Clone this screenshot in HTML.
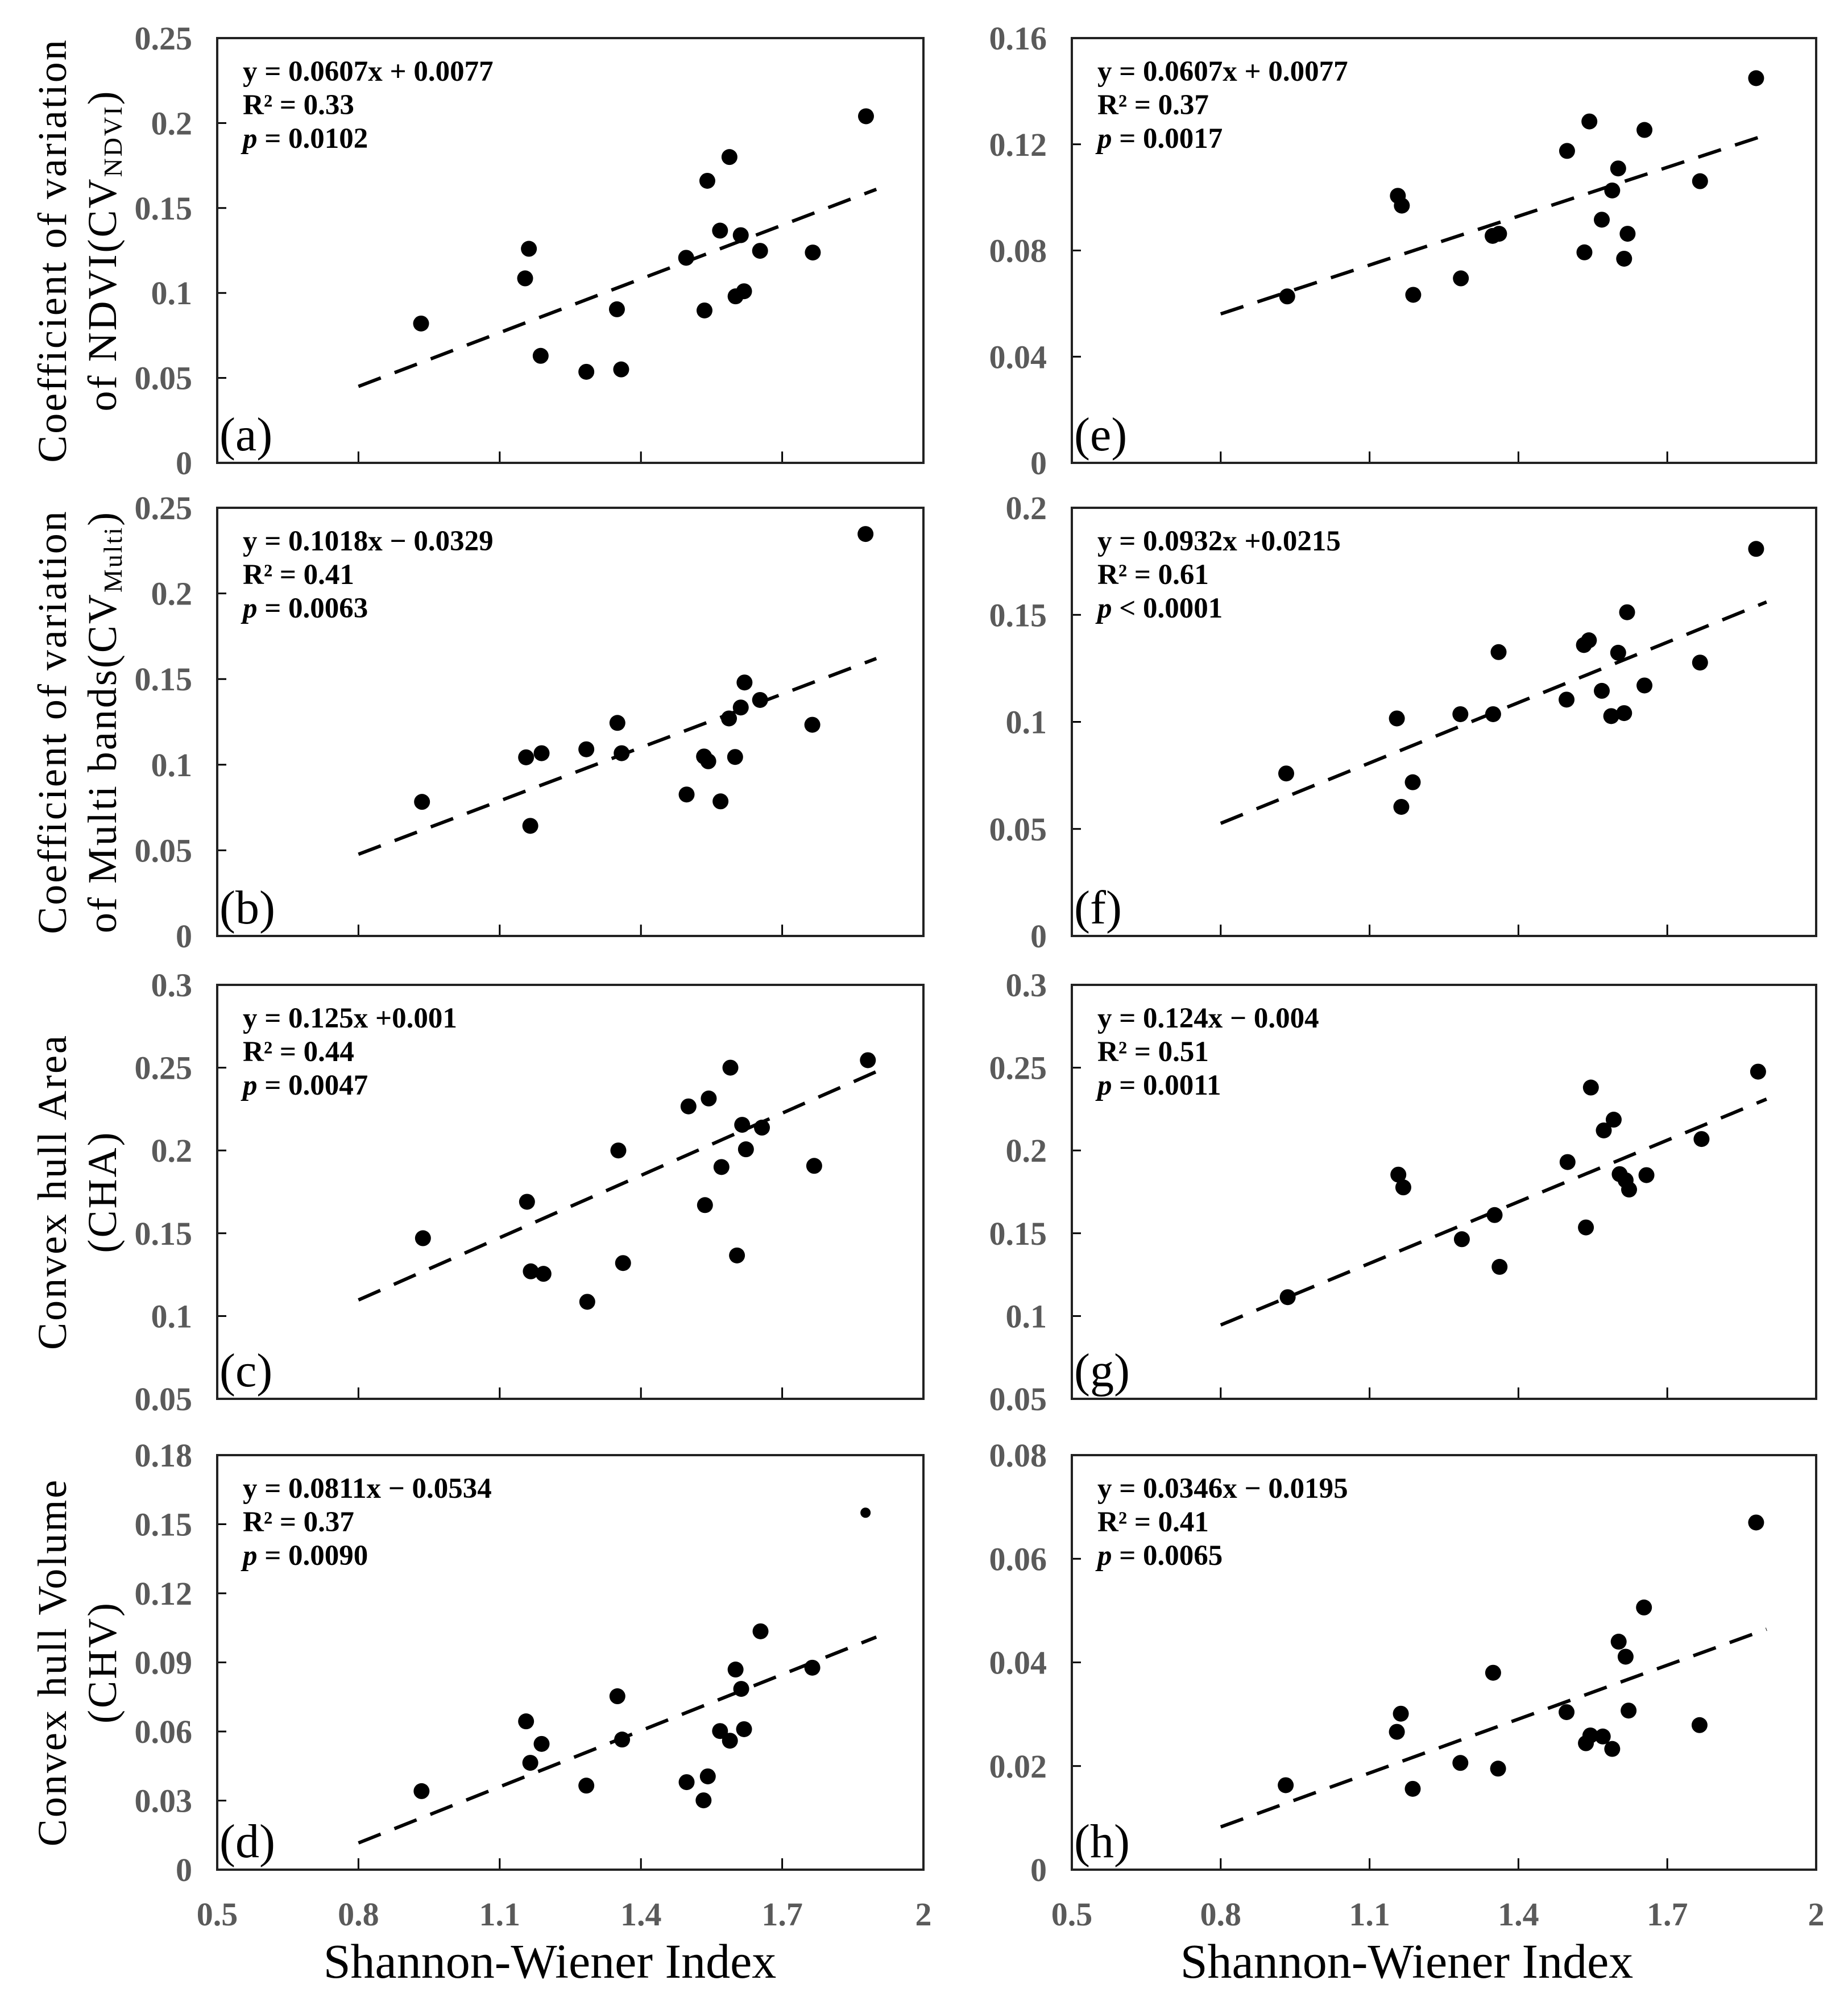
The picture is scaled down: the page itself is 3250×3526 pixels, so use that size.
<!DOCTYPE html>
<html><head><meta charset="utf-8"><style>
html,body{margin:0;padding:0;background:#fff;}
svg{display:block;}
</style></head><body>
<svg id="fig" width="3250" height="3526" viewBox="0 0 3250 3526" xmlns="http://www.w3.org/2000/svg">
<rect width="3250" height="3526" fill="#fff"/>
</svg>
<script>
// ---------- data ----------
const xA = [0.933,1.154,1.162,1.187,1.284,1.349,1.358,1.496,1.535,1.541,1.568,1.588,1.601,1.612,1.619,1.653,1.765,1.878];
const yA = [0.082,0.1086,0.126,0.063,0.0536,0.0904,0.055,0.1207,0.0897,0.166,0.1367,0.180,0.098,0.134,0.101,0.1248,0.1238,0.204];
const xB = [0.935,1.156,1.165,1.189,1.284,1.350,1.359,1.497,1.534,1.543,1.569,1.587,1.600,1.612,1.620,1.653,1.764,1.877];
const yB = [0.0783,0.1043,0.0643,0.1067,0.109,0.1244,0.1067,0.0826,0.1048,0.102,0.0786,0.127,0.1045,0.1334,0.148,0.1378,0.1233,0.2347];
const xC = [0.937,1.158,1.166,1.193,1.286,1.352,1.362,1.501,1.536,1.544,1.571,1.590,1.604,1.615,1.623,1.657,1.768,1.882];
const yC = [0.147,0.169,0.127,0.1255,0.1086,0.200,0.132,0.2266,0.167,0.2314,0.190,0.250,0.1366,0.2155,0.2007,0.2138,0.1907,0.2545];
const xD = [0.934,1.156,1.165,1.189,1.284,1.350,1.360,1.497,1.533,1.542,1.568,1.589,1.601,1.613,1.619,1.654,1.764,1.877];
const yD = [0.0341,0.0644,0.0464,0.0546,0.0365,0.0753,0.0565,0.038,0.0301,0.0405,0.0602,0.056,0.0869,0.0785,0.061,0.1035,0.0877,0.155];
const xE = [0.934,1.157,1.165,1.188,1.284,1.348,1.361,1.498,1.533,1.543,1.568,1.589,1.601,1.613,1.620,1.654,1.766,1.879];
const yE = [0.0627,0.1006,0.0969,0.0633,0.0695,0.0855,0.0863,0.1175,0.0793,0.1286,0.0916,0.1026,0.1109,0.0769,0.0863,0.1254,0.1061,0.1449];
const xF = [0.932,1.155,1.164,1.187,1.283,1.349,1.360,1.497,1.532,1.542,1.568,1.587,1.601,1.613,1.619,1.654,1.766,1.879];
const yF = [0.0759,0.1016,0.0603,0.0718,0.1036,0.1036,0.1326,0.1104,0.1359,0.1381,0.1145,0.1027,0.1323,0.1041,0.1512,0.117,0.1277,0.1808];
const xG = [0.935,1.158,1.168,1.286,1.352,1.362,1.499,1.536,1.546,1.572,1.592,1.604,1.616,1.623,1.658,1.769,1.883];
const yG = [0.1114,0.1854,0.1777,0.1464,0.161,0.1297,0.193,0.1535,0.238,0.2121,0.2186,0.1857,0.182,0.1764,0.1851,0.2069,0.2476];
const xH = [0.931,1.155,1.163,1.187,1.283,1.349,1.359,1.497,1.536,1.545,1.570,1.589,1.602,1.616,1.622,1.653,1.765,1.879];
const yH = [0.0163,0.0266,0.0301,0.0156,0.0206,0.038,0.0195,0.0304,0.0244,0.0259,0.0257,0.0233,0.0440,0.0411,0.0307,0.0506,0.0279,0.0670];
// trend lines: y at x=0.8 and x=1.9
const trendX = [0.8, 1.9];
const trendA = [0.045,0.161];
const trendB = [0.0477,0.162];
const trendC = [0.1097,0.2476];
const trendD = [0.0116,0.101];
const trendE = [0.0561,0.1236];
const trendF = [0.0526,0.156];
const trendG = [0.0946,0.231];
const trendH = [0.00825,0.0464];
// axis ticks
const xTicks = [0.5,0.8,1.1,1.4,1.7,2];
const xTickLabels = ["0.5","0.8","1.1","1.4","1.7","2"];
const yTicksA = [0,0.05,0.1,0.15,0.2,0.25];
const yLabelsA = ["0","0.05","0.1","0.15","0.2","0.25"];
const yTicksC = [0.05,0.1,0.15,0.2,0.25,0.3];
const yLabelsC = ["0.05","0.1","0.15","0.2","0.25","0.3"];
const yTicksD = [0,0.03,0.06,0.09,0.12,0.15,0.18];
const yLabelsD = ["0","0.03","0.06","0.09","0.12","0.15","0.18"];
const yTicksE = [0,0.04,0.08,0.12,0.16];
const yLabelsE = ["0","0.04","0.08","0.12","0.16"];
const yTicksF = [0,0.05,0.1,0.15,0.2];
const yLabelsF = ["0","0.05","0.1","0.15","0.2"];
const yTicksH = [0,0.02,0.04,0.06,0.08];
const yLabelsH = ["0","0.02","0.04","0.06","0.08"];

const NS = "http://www.w3.org/2000/svg";
const svg = document.getElementById('fig');
function mk(tag, attrs, parent){
  const e = document.createElementNS(NS, tag);
  for (const k in attrs) e.setAttribute(k, attrs[k]);
  (parent||svg).appendChild(e);
  return e;
}
const SERIF = '"Liberation Serif", "Times New Roman", serif';

const panels = [
  {id:'a', col:0, row:0, xs:xA, ys:yA, tr:trendA, yt:yTicksA, yl:yLabelsA, eq:["y = 0.0607x + 0.0077","R² = 0.33","= 0.0102"]},
  {id:'b', col:0, row:1, xs:xB, ys:yB, tr:trendB, yt:yTicksA, yl:yLabelsA, eq:["y = 0.1018x − 0.0329","R² = 0.41","= 0.0063"]},
  {id:'c', col:0, row:2, xs:xC, ys:yC, tr:trendC, yt:yTicksC, yl:yLabelsC, eq:["y = 0.125x +0.001","R² = 0.44","= 0.0047"]},
  {id:'d', col:0, row:3, xs:xD, ys:yD, tr:trendD, yt:yTicksD, yl:yLabelsD, eq:["y = 0.0811x − 0.0534","R² = 0.37","= 0.0090"]},
  {id:'e', col:1, row:0, xs:xE, ys:yE, tr:trendE, yt:yTicksE, yl:yLabelsE, eq:["y = 0.0607x + 0.0077","R² = 0.37","= 0.0017"]},
  {id:'f', col:1, row:1, xs:xF, ys:yF, tr:trendF, yt:yTicksF, yl:yLabelsF, eq:["y = 0.0932x +0.0215","R² = 0.61","< 0.0001"]},
  {id:'g', col:1, row:2, xs:xG, ys:yG, tr:trendG, yt:yTicksC, yl:yLabelsC, eq:["y = 0.124x − 0.004","R² = 0.51","= 0.0011"]},
  {id:'h', col:1, row:3, xs:xH, ys:yH, tr:trendH, yt:yTicksH, yl:yLabelsH, eq:["y = 0.0346x − 0.0195","R² = 0.41","= 0.0065"]}
];
const colX = [[382,1624],[1885,3194]];
const rowY = [[67,814],[893,1646],[1732,2460],[2559,3288]];

panels.forEach(P => {
  const [L,R] = colX[P.col];
  const [T,B] = rowY[P.row];
  const y0 = P.yt[0], y1 = P.yt[P.yt.length-1];
  const sx = v => L + (v-0.5)/1.5*(R-L);
  const sy = v => B - (v-y0)/(y1-y0)*(B-T);
  const g = mk('g', {});
  
  

  P.yt.forEach((v,i) => {
    const y = sy(v);
    if (i>0 && i<P.yt.length-1) {
      const t = mk('line', {x1:L, x2:L+16, y1:y, y2:y, stroke:'#000','stroke-width':3}, g);
      
      
    }
    const lb = mk('text', {x:L-44, y:y+20, 'text-anchor':'end', 'font-family':SERIF, 'font-weight':'bold', 'font-size':58, fill:'#5a5a5a'}, g);
    lb.textContent = P.yl[i];
    
    
  });
  xTicks.forEach((v,i) => {
    const x = sx(v);
    if (i>0 && i<xTicks.length-1) {
      const t = mk('line', {x1:x, x2:x, y1:B, y2:B-20, stroke:'#000','stroke-width':3}, g);
      
      
    }
    if (P.row === 3) {
      const lb = mk('text', {x:x, y:3386, 'text-anchor':'middle', 'font-family':SERIF, 'font-weight':'bold', 'font-size':58, fill:'#5a5a5a'}, g);
      lb.textContent = xTickLabels[i];
      
      
    }
  });
  const fr = mk('rect', {x:L, y:T, width:R-L, height:B-T, fill:'none', stroke:'#222','stroke-width':4}, g);
  
  
  const tl = mk('line', {x1:sx(trendX[0]), y1:sy(P.tr[0]), x2:sx(trendX[1]), y2:sy(P.tr[1]), stroke:'#000','stroke-width':6,'stroke-dasharray':'42 26'}, g);
  
  
  P.xs.forEach((xv,i) => {
    const r = (P.id==='d' && i===P.xs.length-1) ? 9 : 14;
    const c = mk('circle', {cx:sx(xv), cy:sy(P.ys[i]), r:r, fill:'#000'}, g);
    
    
  });
  const ex = L + 45;
  const e1 = mk('text', {x:ex, y:T+75, 'font-family':SERIF, 'font-weight':'bold', 'font-size':51, fill:'#000'}, g);
  e1.textContent = P.eq[0];
  
  
  const e2 = mk('text', {x:ex, y:T+134, 'font-family':SERIF, 'font-weight':'bold', 'font-size':51, fill:'#000'}, g);
  e2.textContent = P.eq[1];
  
  
  const e3 = mk('text', {x:ex, y:T+193, 'font-family':SERIF, 'font-weight':'bold', 'font-size':51, fill:'#000'}, g);
  
  
  const ts1 = mk('tspan', {'font-style':'italic'}, e3); ts1.textContent = 'p ';
  const ts2 = mk('tspan', {}, e3); ts2.textContent = P.eq[2];
  const pl = mk('text', {x:L+4, y:B-22, 'font-family':SERIF, 'font-size':84, fill:'#000'}, g);
  pl.textContent = '(' + P.id + ')';
  
  
});

const yTitles = [
  {row:0, l1:'Coefficient of variation', l2:['of NDVI(CV','NDVI',')']},
  {row:1, l1:'Coefficient of variation', l2:['of Multi bands(CV','Multi',')']},
  {row:2, l1:'Convex hull Area', l2:['(CHA)']},
  {row:3, l1:'Convex hull Volume', l2:['(CHV)']}
];
yTitles.forEach(t => {
  const [T,B] = rowY[t.row];
  const cy = (T+B)/2;
  [[[t.l1], 116],[t.l2, 204]].forEach(([parts,x]) => {
    const tx = mk('text', {x:0, y:0, transform:`translate(${x},${cy}) rotate(-90)`, 'text-anchor':'middle', 'font-family':SERIF, 'font-size':72, 'letter-spacing':3, fill:'#000'});
    
    
    parts.forEach((p,i) => {
      const ts = mk('tspan', i===1 ? {'font-size':46, dy:10} : (i===2 ? {dy:-10} : {}), tx);
      ts.textContent = p;
    });
  });
});

[[967,'x-axis-title-left'],[2474,'x-axis-title-right']].forEach(([x,n]) => {
  const t = mk('text', {x:x, y:3478, 'text-anchor':'middle', 'font-family':SERIF, 'font-size':86, fill:'#000'});
  t.textContent = 'Shannon-Wiener Index';
  
  
});
</script>
</body></html>
